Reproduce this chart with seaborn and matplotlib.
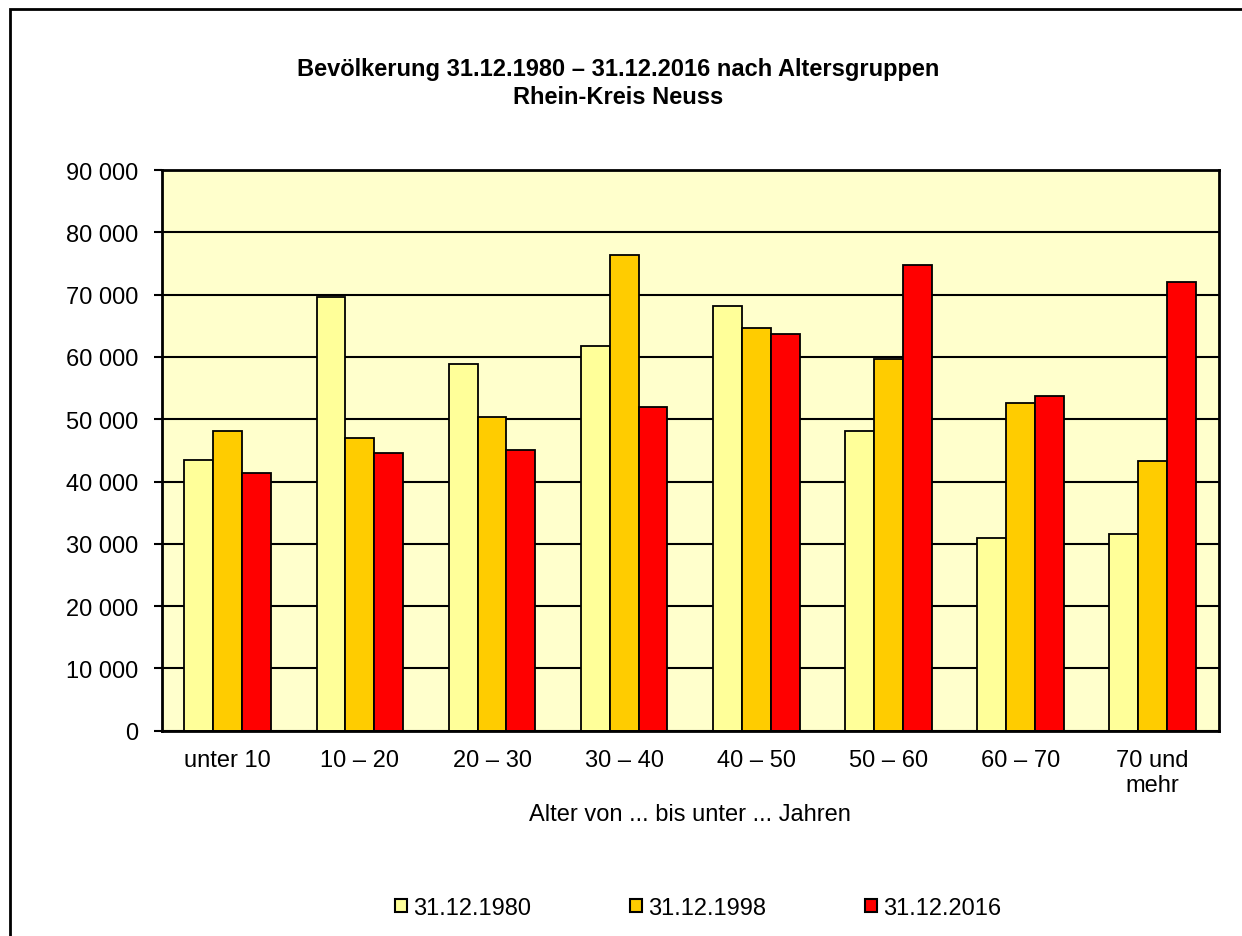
import matplotlib
matplotlib.use("Agg")
import matplotlib.pyplot as plt
import matplotlib.patches as mpatches
from matplotlib.ticker import FuncFormatter, MultipleLocator
import numpy as np
import pandas as pd
import seaborn as sns

# Altersgruppen und Bevoelkerung je Stichtag
altersgruppen = ['unter 10', '10 – 20', '20 – 30', '30 – 40', '40 – 50',
                 '50 – 60', '60 – 70', '70 und\nmehr']
stichtage = ['31.12.1980', '31.12.1998', '31.12.2016']
bev_1980 = [43500, 69600, 58900, 61700, 68200, 48100, 30900, 31500]
bev_1998 = [48100, 47000, 50300, 76400, 64700, 59600, 52600, 43300]
bev_2016 = [41400, 44500, 45100, 52000, 63700, 74800, 53800, 72000]
farben = ['#FFFF99', '#FFCC00', '#FF0000']

df = pd.DataFrame({
    'Altersgruppe': altersgruppen * 3,
    'Stichtag': [s for s in stichtage for _ in altersgruppen],
    'Bevoelkerung': bev_1980 + bev_1998 + bev_2016,
})

sns.set_style("white")
plt.rcParams['font.family'] = ['Liberation Sans', 'DejaVu Sans']
plt.rcParams['text.color'] = 'black'
plt.rcParams['xtick.color'] = 'black'
plt.rcParams['ytick.color'] = 'black'
plt.rcParams['axes.labelcolor'] = 'black'

fig = plt.figure(figsize=(12.42, 9.37), dpi=100)
ax = fig.add_axes([0.1302, 0.2191, 0.8510, 0.5984])

sns.barplot(data=df, x='Altersgruppe', y='Bevoelkerung', hue='Stichtag',
            hue_order=stichtage, palette=farben, saturation=1, width=0.656,
            edgecolor='black', linewidth=1.3, legend=False, ax=ax)

ax.set_facecolor('#FFFFCC')
ax.set_ylim(0, 90000)
ax.set_xlim(-0.5, 7.5)
ax.yaxis.set_major_locator(MultipleLocator(10000))
ax.yaxis.set_major_formatter(FuncFormatter(lambda v, p: f"{int(v):,}".replace(',', ' ')))
ax.yaxis.grid(True, color='black', linewidth=1.5)
ax.set_axisbelow(True)
for sp in ax.spines.values():
    sp.set_color('black')
    sp.set_linewidth(2)

ax.tick_params(axis='y', which='major', direction='out', length=5.8, width=1.5,
               color='black', labelcolor='black', pad=11, labelsize=17, left=True)
ax.tick_params(axis='x', length=0, pad=13, labelsize=17, labelcolor='black')
ax.set_ylabel('')
ax.set_xlabel('Alter von ... bis unter ... Jahren', fontsize=17, labelpad=5,
              color='black')

fig.text(0.4976, 0.911, 'Bevölkerung 31.12.1980 – 31.12.2016 nach Altersgruppen\nRhein-Kreis Neuss',
         ha='center', va='center', fontsize=17, fontweight='bold', linespacing=1.25,
         color='black')

handles = [mpatches.Patch(facecolor=c, edgecolor='black', linewidth=1.5, label=s)
           for c, s in zip(farben, stichtage)]
fig.legend(handles=handles, loc='center', bbox_to_anchor=(0.562, 0.0299), ncol=3,
           frameon=False, fontsize=17, handlelength=0.5, handleheight=0.5,
           handletextpad=0.25, columnspacing=4.2, labelcolor='black')

# Rahmen um das Diagramm
rahmen = mpatches.Rectangle((10 / 1242, -0.2), 2, 1.2 - 10 / 937,
                            transform=fig.transFigure, fill=False,
                            edgecolor='black', linewidth=2, clip_on=False)
fig.patches.append(rahmen)

fig.savefig('out.png', dpi=100)
